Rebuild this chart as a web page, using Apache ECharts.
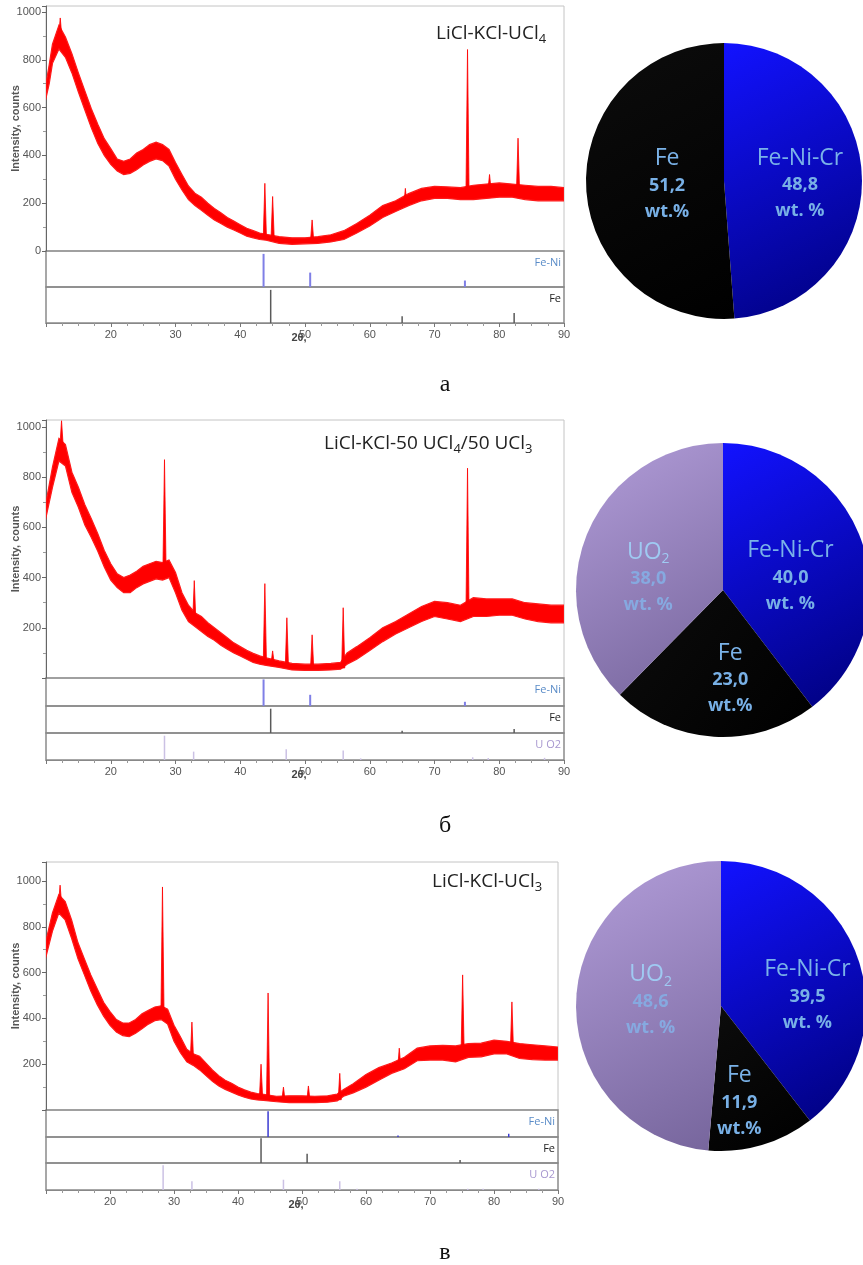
<!DOCTYPE html>
<html>
<head>
<meta charset="utf-8">
<script src="https://cdn.jsdelivr.net/npm/echarts@6/dist/echarts.min.js"></script>
<style>
  html, body { margin: 0; padding: 0; background: #fff; }
  #chart { width: 863px; height: 1265px; }
</style>
</head>
<body>
<div id="chart"></div>
<script>
// ---- XRD patterns: noise band [2θ, lower, upper] and sharp reflections [2θ, base, top] ----
const bandA = [
  [10, 640, 700], [10.5, 700, 780], [11, 785, 865], [12, 845, 945], [13, 810, 895], [14, 745, 825],
  [15, 665, 745], [16, 590, 670], [17, 515, 595], [18, 450, 530], [19, 400, 470], [20, 362, 428],
  [21, 335, 385], [22, 320, 375], [23, 325, 385], [24, 340, 410], [25, 360, 425], [26, 375, 445],
  [27, 385, 455], [28, 378, 445], [29, 355, 425], [30, 300, 370], [31, 255, 320], [32, 215, 272],
  [33, 190, 242], [34, 170, 225], [35, 150, 200], [36, 130, 178], [37, 115, 160], [38, 100, 140],
  [39, 88, 125], [40, 75, 110], [41, 62, 95], [42, 55, 85], [43, 48, 75], [44, 45, 70],
  [46, 32, 60], [48, 28, 55], [50, 30, 55], [52, 32, 60], [54, 38, 68], [56, 48, 85],
  [58, 75, 115], [60, 105, 150], [62, 140, 190], [64, 165, 210], [66, 190, 240], [68, 210, 262],
  [70, 220, 270], [72, 220, 268], [74, 215, 265], [76, 215, 275], [78, 220, 280], [80, 225, 285],
  [82, 225, 280], [84, 215, 275], [86, 210, 270], [88, 210, 270], [90, 210, 265]
];
const peaksA = [
  [12.2, 900, 975], [43.8, 60, 283], [45.0, 55, 228], [51.1, 45, 130], [65.5, 190, 262],
  [75.1, 240, 843], [78.5, 255, 320], [82.9, 250, 472]
];
const bandB = [
  [10, 640, 700], [11, 760, 840], [12, 865, 955], [13, 845, 930], [14, 740, 820], [15, 680, 760],
  [16, 610, 690], [17, 560, 635], [18, 505, 575], [19, 442, 508], [20, 390, 455], [21, 360, 415],
  [22, 340, 400], [23, 340, 410], [24, 360, 425], [25, 375, 445], [26, 385, 455], [27, 395, 465],
  [28, 390, 460], [29, 400, 470], [30, 340, 420], [31, 270, 340], [32, 225, 290], [33, 205, 260],
  [34, 185, 245], [35, 165, 220], [36, 150, 200], [37, 130, 180], [38, 115, 160], [39, 100, 140],
  [40, 88, 125], [41, 75, 110], [42, 62, 98], [43, 55, 88], [44, 50, 80], [46, 42, 68],
  [48, 32, 58], [50, 30, 55], [52, 30, 55], [54, 32, 58], [55.5, 35, 62], [56.5, 55, 100],
  [58, 75, 125], [60, 110, 160], [62, 145, 200], [64, 175, 225], [66, 200, 255], [68, 225, 285],
  [70, 245, 305], [72, 235, 300], [74, 225, 290], [76, 245, 320], [78, 245, 315], [80, 250, 315],
  [82, 250, 315], [84, 235, 300], [86, 225, 295], [88, 220, 290], [90, 220, 290]
];
const peaksB = [
  [12.4, 930, 1025], [28.3, 440, 870], [32.9, 230, 388], [43.8, 70, 376], [45.0, 60, 108],
  [47.2, 50, 240], [51.1, 42, 172], [55.9, 40, 280], [75.1, 260, 836]
];
const bandC = [
  [10, 670, 740], [11, 780, 860], [12, 860, 940], [13, 830, 910], [14, 750, 830], [15, 660, 730],
  [16, 590, 660], [17, 520, 590], [18, 460, 530], [19, 410, 470], [20, 370, 430], [21, 340, 395],
  [22, 325, 380], [23, 320, 380], [24, 335, 395], [25, 355, 420], [26, 375, 435], [27, 390, 450],
  [28, 395, 455], [29, 375, 440], [30, 300, 370], [31, 250, 320], [32, 210, 265], [33, 195, 245],
  [34, 175, 235], [35, 150, 205], [36, 125, 175], [37, 105, 150], [38, 90, 130], [39, 78, 117],
  [40, 66, 100], [41, 56, 88], [42, 48, 78], [43, 44, 72], [44, 42, 68], [46, 36, 60],
  [48, 32, 62], [50, 32, 62], [52, 32, 60], [54, 34, 62], [55.5, 40, 70], [56.5, 60, 90],
  [58, 75, 115], [60, 100, 155], [62, 130, 185], [64, 160, 205], [66, 180, 230], [68, 215, 270],
  [70, 218, 280], [72, 218, 282], [74, 210, 280], [76, 230, 290], [78, 232, 292], [80, 245, 305],
  [82, 245, 300], [84, 225, 290], [86, 220, 285], [88, 218, 280], [90, 218, 275]
];
const peaksC = [
  [12.2, 900, 982], [28.2, 430, 974], [32.8, 230, 384], [43.6, 60, 200], [44.7, 55, 511],
  [47.1, 45, 100], [51.0, 45, 105], [55.9, 45, 160], [65.2, 185, 270], [75.1, 250, 590],
  [82.8, 265, 472]
];

// ---- reference stick patterns [2θ, relative intensity] ----
const feNiA = [[43.6, 92], [50.8, 40], [74.7, 18]];
const feA   = [[44.7, 92], [65.0, 19], [82.3, 28]];
const feNiB = [[43.6, 95], [50.8, 40], [74.7, 15]];
const feB   = [[44.7, 90], [65.0, 8], [82.3, 15]];
const uo2B  = [[28.3, 90], [32.8, 31], [47.1, 40], [55.9, 35], [58.6, 6], [75.9, 10], [78.3, 7], [87.0, 8]];
const feNiC = [[44.7, 95], [65.0, 6], [82.3, 12]];
const feC   = [[43.6, 95], [50.8, 36], [74.7, 12]];
const uo2C  = [[28.3, 92], [32.8, 32], [47.1, 38], [55.9, 32], [58.6, 5], [75.9, 5], [78.3, 5], [87.0, 5]];

// ---- phase composition, wt.% ----
const phases = ['Fe-Ni-Cr', 'Fe', 'UO2'];
const units  = ['wt. %', 'wt.%', 'wt. %'];
const pieA = [48.8, 51.2];
const pieB = [40.0, 23.0, 38.0];
const pieC = [39.5, 11.9, 48.6];

// ---- captions ----
const sampleTitles = [
  '{m|LiCl-KCl-UCl}{s|4}',
  '{m|LiCl-KCl-50 UCl}{s|4}{m|/50 UCl}{s|3}',
  '{m|LiCl-KCl-UCl}{s|3}'
];
const panelLetters = ['а', 'б', 'в'];
const refNames = { feNi: 'Fe-Ni', fe: 'Fe', uo2: 'U O2' };
const yTicks = { min: 0, step: 200 };
const xTicks = { min: 10, max: 90, step: 10 };

const AXIS_FONT = 'Liberation Sans';
const grids = [], xAxes = [], yAxes = [], series = [], graphics = [];

function addGrid(left, top, width, height, border, bw) {
  grids.push({ left, top, width, height, show: true, borderColor: border, borderWidth: bw,
               backgroundColor: 'transparent', outerBoundsMode: 'none', containLabel: false });
  return grids.length - 1;
}

const PEAK_HW = 0.24;

function addPanel(p) {
  const [left, top, width, height, yMax] = p.main;
  const g = addGrid(left, top, width, height, '#c4c4c4', 1);
  xAxes.push({ gridIndex: g, type: 'value', min: xTicks.min, max: xTicks.max, show: false });
  yAxes.push({
    gridIndex: g, type: 'value', min: yTicks.min, max: yMax, interval: yTicks.step,
    axisLine: { show: true, onZero: false, lineStyle: { color: '#666', width: 1 } },
    axisTick: { show: true, length: 4, lineStyle: { color: '#666' } },
    minorTick: { show: true, splitNumber: 2, length: 3, lineStyle: { color: '#999' } },
    splitLine: { show: false },
    axisLabel: { fontSize: 11, color: '#555', margin: 5, fontFamily: AXIS_FONT,
                 showMinLabel: p.showZero, showMaxLabel: false, formatter: v => String(v) },
    name: 'Intensity, counts', nameLocation: 'middle', nameGap: 25, nameMoveOverlap: false,
    nameTextStyle: { fontSize: 11, fontWeight: 'bold', color: '#555', fontFamily: AXIS_FONT }
  });
  const ax = xAxes.length - 1;
  const band = p.band, peaks = p.peaks;
  // noise band as one filled polygon between lower and upper edges
  series.push({
    type: 'custom', xAxisIndex: ax, yAxisIndex: ax, silent: true, clip: true,
    data: band, encode: { x: 0, y: [1, 2] },
    renderItem: (params, api) => {
      if (params.dataIndex !== 0) return null;
      const upper = band.map(d => api.coord([d[0], d[2]]));
      const lower = band.map(d => api.coord([d[0], d[1]])).reverse();
      return { type: 'polygon', shape: { points: upper.concat(lower) },
               style: { fill: '#ff0000', stroke: '#ff1a1a', lineWidth: 1.2 } };
    }
  });
  // sharp reflections as narrow triangles
  series.push({
    type: 'custom', xAxisIndex: ax, yAxisIndex: ax, silent: true, clip: true, z: 3,
    data: peaks, encode: { x: 0, y: [1, 2] },
    renderItem: (params, api) => {
      const [t, base, topV] = peaks[params.dataIndex];
      return { type: 'polygon',
               shape: { points: [api.coord([t - PEAK_HW, base]), api.coord([t, topV]), api.coord([t + PEAK_HW, base])] },
               style: { fill: '#ff0000', stroke: '#ff0000', lineWidth: 0.8 } };
    }
  });

  // reference strips
  p.refs.forEach((r, i) => {
    const [sTop, sH] = p.strips[i];
    const sg = addGrid(left, sTop, width, sH, '#8a8a8a', 1.5);
    const last = i === p.refs.length - 1;
    xAxes.push(last ? {
      gridIndex: sg, type: 'value', min: xTicks.min, max: xTicks.max, interval: xTicks.step,
      axisLine: { show: true, onZero: false, lineStyle: { color: '#888' } },
      axisTick: { show: true, length: 4, lineStyle: { color: '#777' } },
      minorTick: { show: true, splitNumber: 4, length: 3, lineStyle: { color: '#999' } },
      splitLine: { show: false },
      axisLabel: { fontSize: 11, color: '#555', margin: 6, fontFamily: AXIS_FONT, showMinLabel: false },
      name: '2θ,', nameLocation: 'middle', nameGap: 9, nameMoveOverlap: false,
      nameTextStyle: { fontSize: 11, fontWeight: 'bold', color: '#444', fontFamily: AXIS_FONT,
                       padding: [0, 12, 0, 0] }
    } : { gridIndex: sg, type: 'value', min: xTicks.min, max: xTicks.max, show: false });
    yAxes.push({ gridIndex: sg, type: 'value', min: 0, max: 100, show: false });
    const si = xAxes.length - 1;
    series.push({
      type: 'bar', xAxisIndex: si, yAxisIndex: si, data: r.data, barWidth: r.width, silent: true,
      itemStyle: { color: r.color }
    });
    graphics.push({
      type: 'text', x: left + width - 3, y: sTop + 12,
      style: { text: r.label, fill: r.labelColor, font: '11px "Open Sans"',
               align: 'right', textAlign: 'right', verticalAlign: 'middle', textVerticalAlign: 'middle' }
    });
  });

  graphics.push({
    type: 'text', x: p.title[1], y: p.title[2],
    style: {
      text: p.title[0], align: 'left', textAlign: 'left', verticalAlign: 'middle', textVerticalAlign: 'middle',
      rich: {
        m: { fontSize: 19, fontFamily: 'Open Sans', fill: '#222', color: '#222', lineHeight: 24, verticalAlign: 'middle' },
        s: { fontSize: 13, fontFamily: 'Open Sans', fill: '#222', color: '#222', lineHeight: 24, verticalAlign: 'bottom' }
      }
    }
  });
  graphics.push({
    type: 'text', x: 445, y: p.letterY,
    style: { text: p.letter, font: '24px "Liberation Serif"', fill: '#111',
             align: 'center', textAlign: 'center', verticalAlign: 'middle', textVerticalAlign: 'middle' }
  });
}

const FE_NI_STICK = '#7f7fe6', FE_STICK = '#5a5a5a', UO2_STICK = '#cbc1e4';
const FE_NI_TXT = '#5a8cc8', FE_TXT = '#222', UO2_TXT = '#a797cf';

addPanel({
  main: [46, 6, 518, 245, 1025], showZero: true, band: bandA, peaks: peaksA,
  strips: [[251, 36], [287, 36]],
  refs: [
    { data: feNiA, color: FE_NI_STICK, width: 2, label: refNames.feNi, labelColor: FE_NI_TXT },
    { data: feA, color: FE_STICK, width: 1.5, label: refNames.fe, labelColor: FE_TXT }
  ],
  title: [sampleTitles[0], 436, 34], letter: panelLetters[0], letterY: 385
});
addPanel({
  main: [46, 420, 518, 258, 1028], showZero: false, band: bandB, peaks: peaksB,
  strips: [[678, 28], [706, 27], [733, 27]],
  refs: [
    { data: feNiB, color: FE_NI_STICK, width: 2, label: refNames.feNi, labelColor: FE_NI_TXT },
    { data: feB, color: FE_STICK, width: 1.5, label: refNames.fe, labelColor: FE_TXT },
    { data: uo2B, color: UO2_STICK, width: 1.5, label: refNames.uo2, labelColor: UO2_TXT }
  ],
  title: [sampleTitles[1], 324, 444], letter: panelLetters[1], letterY: 826
});
addPanel({
  main: [46, 862, 512, 248, 1083], showZero: false, band: bandC, peaks: peaksC,
  strips: [[1110, 27], [1137, 26], [1163, 27]],
  refs: [
    { data: feNiC, color: '#3a3ad2', width: 1.5, label: refNames.feNi, labelColor: FE_NI_TXT },
    { data: feC, color: FE_STICK, width: 1.5, label: refNames.fe, labelColor: FE_TXT },
    { data: uo2C, color: UO2_STICK, width: 1.5, label: refNames.uo2, labelColor: UO2_TXT }
  ],
  title: [sampleTitles[2], 432, 882], letter: panelLetters[2], letterY: 1253
});

// ---- composition pies ----
const sliceFill = [
  new echarts.graphic.LinearGradient(0, 0, 1, 1, [{ offset: 0, color: '#1212ff' }, { offset: 1, color: '#00007c' }]),
  new echarts.graphic.LinearGradient(0, 0, 1, 1, [{ offset: 0, color: '#0c0c0c' }, { offset: 1, color: '#000' }]),
  new echarts.graphic.LinearGradient(0, 0, 1, 1, [{ offset: 0, color: '#b29dd9' }, { offset: 1, color: '#76659c' }])
];
function phaseTitle(name) {
  return name === 'UO2' ? '{u|UO}{us|2}' : '{t|' + name + '}';
}
// label nudges per slice, in px
function addPie(values, center, radius, nudges) {
  series.push({
    type: 'pie', center, radius, startAngle: 90, clockwise: true, silent: true,
    animation: false, avoidLabelOverlap: false,
    data: values.map((v, i) => ({ name: phases[i], value: v, itemStyle: { color: sliceFill[i] }, unit: units[i] })),
    label: {
      show: true, position: 'inside',
      formatter: p => {
        const k = p.name === 'UO2' ? 'w' : 'v';
        return phaseTitle(p.name) + '\n{' + k + '|' + p.value.toFixed(1).replace('.', ',') + '}\n{' + k + '|' + p.data.unit + '}';
      },
      rich: {
        t:  { fontSize: 23, fontFamily: 'Open Sans', color: '#7ab2e8', lineHeight: 28 },
        u:  { fontSize: 23, fontFamily: 'Open Sans', color: '#9fcaf2', lineHeight: 28 },
        us: { fontSize: 14, fontFamily: 'Open Sans', color: '#9fcaf2', lineHeight: 28, verticalAlign: 'bottom' },
        v:  { fontSize: 18, fontFamily: 'Open Sans', fontWeight: 'bold', color: '#78b0e6', lineHeight: 26 },
        w:  { fontSize: 18, fontFamily: 'Open Sans', fontWeight: 'bold', color: '#86a9e0', lineHeight: 26 }
      }
    },
    labelLayout: params => ({ dx: nudges[params.dataIndex][0], dy: nudges[params.dataIndex][1] }),
    labelLine: { show: false },
    itemStyle: { borderWidth: 0 }
  });
}
addPie(pieA, [724, 181], 138, [[4, 6], [15, 1]]);
addPie(pieB, [723, 590], 147, [[-5, 11], [12, 13], [-4, 17]]);
addPie(pieC, [721, 1006], 145, [[15, 14], [-3, 23], [5, -2]]);

const chart = echarts.init(document.getElementById('chart'), null, { renderer: 'canvas' });
chart.setOption({
  animation: false,
  backgroundColor: '#ffffff',
  grid: grids, xAxis: xAxes, yAxis: yAxes, series,
  graphic: { elements: graphics }
});
</script>
</body>
</html>
